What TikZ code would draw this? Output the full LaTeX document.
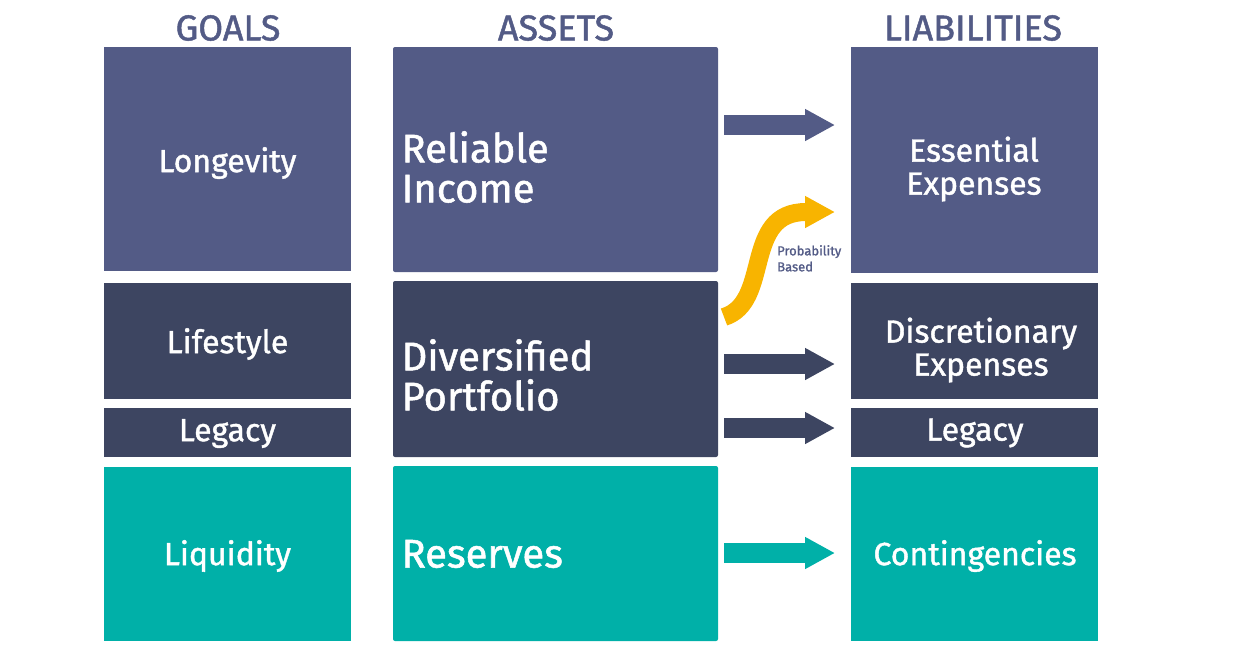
\documentclass[tikz,border=0pt]{standalone}
\usepackage{fontspec}
\setmainfont{Fira Sans}
\newfontfamily\medfont{Fira Sans}[FakeBold=1.3]
\usetikzlibrary{arrows.meta}
\definecolor{cTop}{RGB}{83,91,134}
\definecolor{cMid}{RGB}{61,69,97}
\definecolor{cTeal}{RGB}{0,176,168}
\definecolor{cGold}{RGB}{248,180,0}
\tikzset{
  box/.style={fill=#1, draw=none, inner sep=0pt, outer sep=0pt, anchor=north west},
  goaltxt/.style={text=white, font=\medfont\fontsize{32}{33}\selectfont, align=center},
  assettxt/.style={text=white, font=\medfont\fontsize{40}{40}\selectfont, align=left, anchor=west},
  liabtxt/.style={text=white, font=\medfont\fontsize{32}{33}\selectfont, align=center},
  header/.style={text=cTop, font=\medfont\fontsize{36}{38}\selectfont},
  blockarrow/.style={draw=#1, line width=20pt, -{Triangle[length=30pt,width=30pt]}},
}
\begin{document}
\begin{tikzpicture}[x=1pt,y=-1pt]
\useasboundingbox (0,0) rectangle (1233,670);
% headers
\node[header] (hg) at (228,28) {GOALS};
\node[header] (ha) at (556,28) {ASSETS};
\node[header] (hl) at (973,28) {LIABILITIES};
% goals
\node[box=cTop, minimum width=247pt, minimum height=224pt] (g1) at (104,47) {};
\node[box=cMid, minimum width=247pt, minimum height=116pt] (g2) at (104,283) {};
\node[box=cMid, minimum width=247pt, minimum height=49pt] (g3) at (104,408) {};
\node[box=cTeal, minimum width=247pt, minimum height=174pt] (g4) at (104,467) {};
\node[goaltxt] at ([yshift=-4pt]g1.center) {Longevity};
\node[goaltxt] at ([yshift=-3pt]g2.center) {Lifestyle};
\node[goaltxt] at ([yshift=-1pt]g3.center) {Legacy};
\node[goaltxt] at ([yshift=-2pt]g4.center) {Liquidity};
% assets
\node[box=cTop, rounded corners=2pt, minimum width=325pt, minimum height=225pt] (a1) at (393,47) {};
\node[box=cMid, rounded corners=2pt, minimum width=325pt, minimum height=176pt] (a2) at (393,281) {};
\node[box=cTeal, rounded corners=2pt, minimum width=325pt, minimum height=175pt] (a3) at (393,466) {};
\node[assettxt] at (398,167) {Reliable\\Income};
\node[assettxt] at (398,375) {Diversified\\Portfolio};
\node[assettxt] at (398,554) {Reserves};
% liabilities
\node[box=cTop, minimum width=247pt, minimum height=226pt] (l1) at (851,47) {};
\node[box=cMid, minimum width=247pt, minimum height=116pt] (l2) at (851,283) {};
\node[box=cMid, minimum width=247pt, minimum height=49pt] (l3) at (851,408) {};
\node[box=cTeal, minimum width=247pt, minimum height=174pt] (l4) at (851,467) {};
\node[liabtxt] at (974,169) {Essential\\Expenses};
\node[liabtxt] at (981,350) {Discretionary\\Expenses};
\node[liabtxt] at (975,433) {Legacy};
\node[liabtxt] at (975,556) {Contingencies};
% arrows
\coordinate (s1) at (724,125); \coordinate (e1) at (835,125);
\coordinate (s2) at (724,364); \coordinate (e2) at (835,364);
\coordinate (s3) at (724,428); \coordinate (e3) at (835,428);
\coordinate (s4) at (724,553); \coordinate (e4) at (835,553);
\draw[blockarrow=cTop] (s1) -- (e1);
\draw[blockarrow=cMid] (s2) -- (e2);
\draw[blockarrow=cMid] (s3) -- (e3);
\draw[blockarrow=cTeal] (s4) -- (e4);
% curved arrow
\coordinate (cs) at (724,317);
\coordinate (ce) at (835,212);
\draw[cGold, line width=18pt, -{Triangle[length=30pt,width=30pt]}]
  (cs) .. controls (772,302) and (742,212) .. (806,212) -- (ce);
\node[text=cTop, font=\medfont\fontsize{13}{16}\selectfont, align=left, anchor=north west, inner sep=0pt] (pb) at (777,245) {Probability\\Based};
\end{tikzpicture}
\end{document}
